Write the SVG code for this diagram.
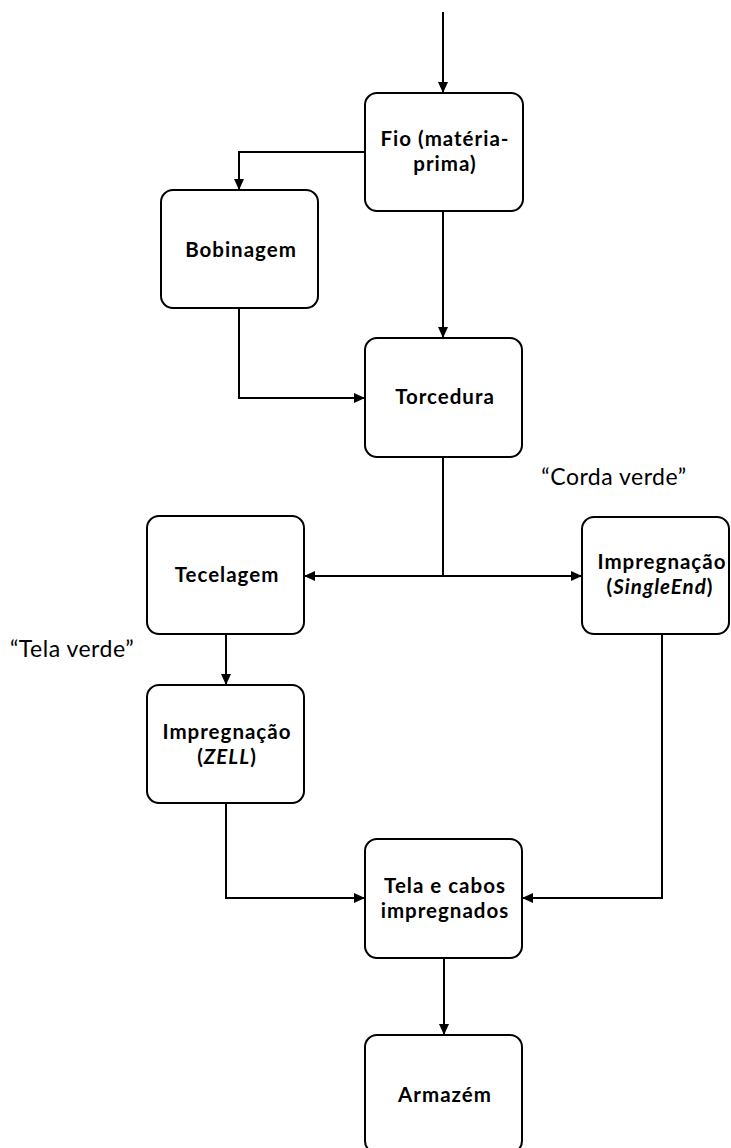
<svg xmlns="http://www.w3.org/2000/svg" width="731" height="1148" viewBox="0 0 731 1148">
<style>
.box{fill:#fff;stroke:#000;stroke-width:2}
.t{font-family:Lato,"Noto Sans",sans-serif;font-weight:bold;font-size:20.5px;letter-spacing:1px;fill:#000;text-anchor:middle}
.lbl{font-family:Lato,"Noto Sans",sans-serif;font-size:23px;letter-spacing:0.5px;fill:#000;text-anchor:middle}
.c{fill:none;stroke:#000;stroke-width:2}
</style>
<defs>
<marker id="ah" markerUnits="userSpaceOnUse" markerWidth="12" markerHeight="12" refX="11" refY="6" orient="auto" viewBox="0 0 12 12">
<path d="M0,1 L11,6 L0,11 z" fill="#000"/>
</marker>
</defs>
<rect width="731" height="1148" fill="#fff"/>
<g id="connectors">
<path class="c" d="M443,12 V93" marker-end="url(#ah)"/>
<path class="c" d="M365,152 H239 V190" marker-end="url(#ah)"/>
<path class="c" d="M443,211 V338" marker-end="url(#ah)"/>
<path class="c" d="M239,308 V398 H365" marker-end="url(#ah)"/>
<path class="c" d="M443,457 V576"/>
<path class="c" d="M443,576 H304" marker-end="url(#ah)"/>
<path class="c" d="M443,576 H582" marker-end="url(#ah)"/>
<path class="c" d="M226,634 V685" marker-end="url(#ah)"/>
<path class="c" d="M226,803 V898 H365" marker-end="url(#ah)"/>
<path class="c" d="M662,634 V898 H522" marker-end="url(#ah)"/>
<path class="c" d="M444,958 V1035" marker-end="url(#ah)"/>
</g>
<g id="fio">
<rect class="box" x="365" y="93" width="158" height="118" rx="12"/>
<text class="t" x="445" y="146">Fio (matéria-</text>
<text class="t" x="445" y="171">prima)</text>
</g>
<g id="bobinagem">
<rect class="box" x="161" y="190" width="157" height="118" rx="12"/>
<text class="t" x="241" y="257">Bobinagem</text>
</g>
<g id="torcedura">
<rect class="box" x="365" y="338" width="157" height="119" rx="12"/>
<text class="t" x="445" y="404">Torcedura</text>
</g>
<g id="tecelagem">
<rect class="box" x="147" y="516" width="157" height="118" rx="12"/>
<text class="t" x="227" y="582">Tecelagem</text>
</g>
<g id="impregnacao-singleend">
<rect class="box" x="582" y="517" width="147" height="117" rx="12"/>
<text class="t" x="662" y="569">Impregnação</text>
<text class="t" x="660" y="594">(<tspan font-style="italic">SingleEnd</tspan>)</text>
</g>
<g id="impregnacao-zell">
<rect class="box" x="147" y="685" width="157" height="118" rx="12"/>
<text class="t" x="227" y="739">Impregnação</text>
<text class="t" x="227" y="764">(<tspan font-style="italic">ZELL</tspan>)</text>
</g>
<g id="tela-cabos">
<rect class="box" x="365" y="839" width="157" height="119" rx="12"/>
<text class="t" x="445" y="893">Tela e cabos</text>
<text class="t" x="445" y="918">impregnados</text>
</g>
<g id="armazem">
<rect class="box" x="365" y="1035" width="157" height="118" rx="12"/>
<text class="t" x="445" y="1102">Armazém</text>
</g>
<g id="labels">
<text class="lbl" x="614" y="485">“Corda verde”</text>
<text class="lbl" x="72" y="657">“Tela verde”</text>
</g>
</svg>
